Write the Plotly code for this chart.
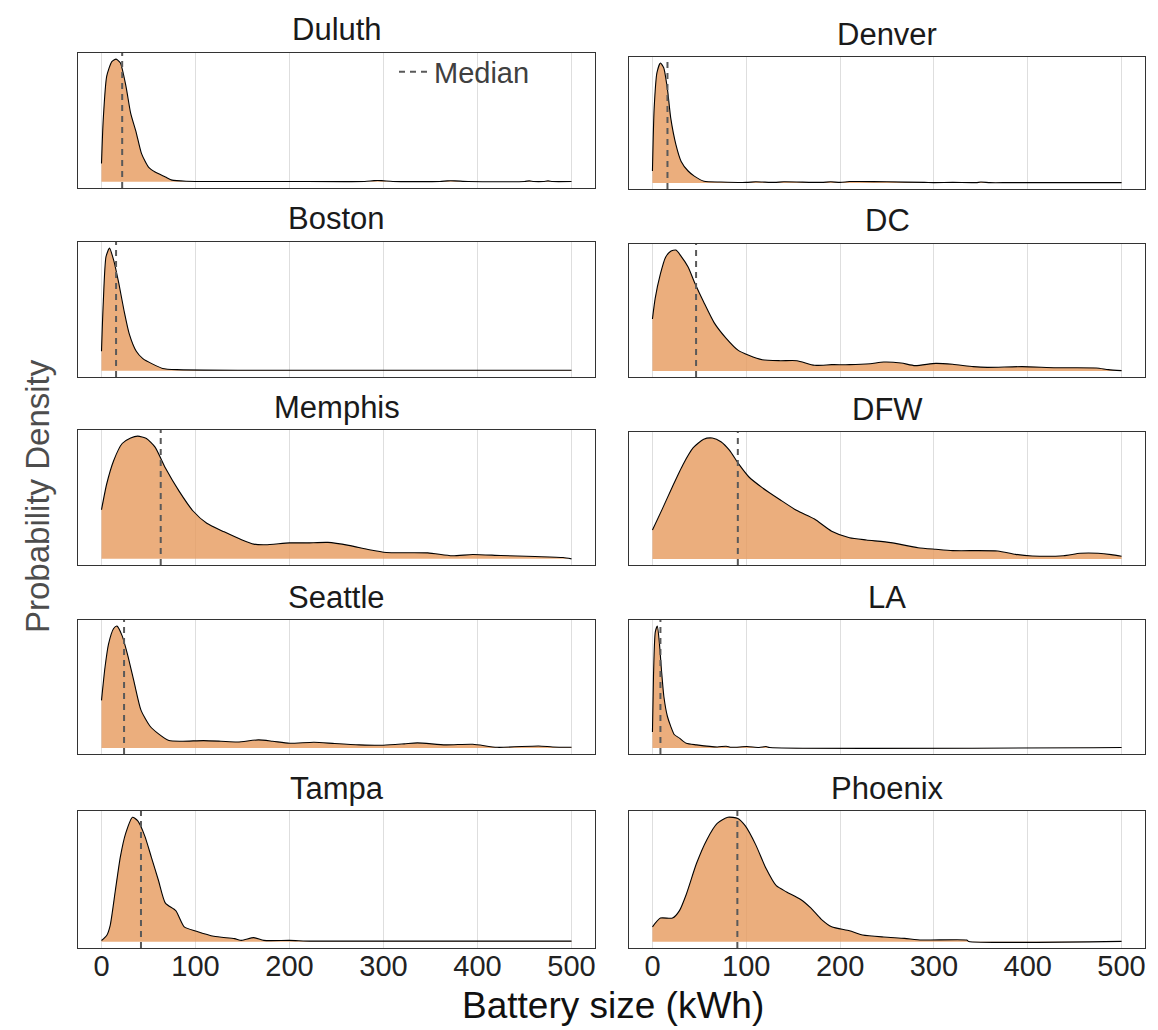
import plotly.graph_objects as go
from plotly.subplots import make_subplots

# ---------------- data ----------------
cities = ["Duluth", "Denver", "Boston", "DC", "Memphis", "DFW", "Seattle", "LA", "Tampa", "Phoenix"]

duluth_x = [0, 1.8, 5.5, 11, 15.5, 20, 26, 31, 37, 42.6, 50, 57, 68, 75, 90, 150, 200, 280, 290, 298, 310,
            360, 368, 376, 390, 450, 455, 460, 470, 475, 480, 500]
duluth_y = [0.15, 0.50, 0.86, 0.98, 1.0, 0.97, 0.78, 0.56, 0.40, 0.23, 0.12, 0.08, 0.04, 0.014, 0.005, 0.003,
            0.003, 0.003, 0.01, 0.01, 0.003, 0.003, 0.008, 0.008, 0.003, 0.003, 0.008, 0.003, 0.003, 0.008,
            0.003, 0.003]

denver_x = [0, 1.8, 4.8, 8.5, 12, 16, 19.5, 25, 30.6, 38, 45, 55, 73, 100, 110, 130, 140, 180, 190, 200,
            210, 220, 250, 290, 300, 320, 345, 350, 360, 380, 500]
denver_y = [0.10, 0.62, 0.92, 1.0, 0.96, 0.78, 0.54, 0.32, 0.18, 0.10, 0.055, 0.014, 0.008, 0.005, 0.01,
            0.005, 0.01, 0.005, 0.01, 0.005, 0.012, 0.012, 0.01, 0.005, 0.003, 0.005, 0.003, 0.008, 0.003,
            0.003, 0.003]

boston_x = [0, 1.8, 4.8, 8.5, 13, 18.5, 24, 29.6, 37, 44, 54, 65, 80, 150, 300, 500]
boston_y = [0.16, 0.54, 0.93, 1.0, 0.90, 0.71, 0.49, 0.30, 0.16, 0.10, 0.057, 0.02, 0.01, 0.005, 0.005, 0.005]

dc_x = [0, 2.9, 8.4, 14, 19.4, 25, 30.4, 38, 45, 54.6, 65.7, 78.6, 91.5, 102.6, 117, 136, 154, 172.7, 191,
        210, 232, 246.5, 265, 280, 302, 320, 342, 357, 394, 430, 473, 486, 500]
dc_y = [0.43, 0.60, 0.80, 0.94, 0.99, 1.0, 0.95, 0.86, 0.73, 0.57, 0.40, 0.27, 0.17, 0.13, 0.093, 0.085,
        0.085, 0.047, 0.052, 0.052, 0.06, 0.074, 0.066, 0.044, 0.063, 0.055, 0.036, 0.03, 0.036, 0.027,
        0.025, 0.011, 0.003]

memphis_x = [0, 5.5, 12.9, 22, 31, 38.6, 47.8, 57, 68, 82.7, 97.4, 112, 130.5, 149, 162, 174.6, 200, 218.8,
             240.8, 263, 285, 303, 347, 373, 395, 424.6, 461, 491, 500]
memphis_y = [0.40, 0.61, 0.80, 0.94, 0.985, 1.0, 0.98, 0.91, 0.74, 0.55, 0.39, 0.29, 0.22, 0.156, 0.12,
             0.115, 0.13, 0.13, 0.134, 0.11, 0.074, 0.052, 0.049, 0.025, 0.036, 0.027, 0.019, 0.011, 0.0]

dfw_x = [0, 10.3, 21.4, 32.5, 43.5, 54.6, 63.8, 73, 82, 91.5, 102.6, 117, 136, 154, 172.7, 191, 210, 228,
         254, 283, 302, 320, 368, 387, 405, 438, 456, 475, 489, 500]
dfw_y = [0.24, 0.41, 0.60, 0.78, 0.92, 0.99, 1.0, 0.97, 0.90, 0.79, 0.68, 0.59, 0.49, 0.40, 0.33, 0.23,
         0.176, 0.157, 0.135, 0.093, 0.08, 0.069, 0.066, 0.038, 0.025, 0.027, 0.047, 0.047, 0.036, 0.022]

seattle_x = [0, 3.7, 7.4, 12.9, 16.5, 22, 27.6, 35, 42, 51.5, 60.7, 71.7, 86.4, 108.5, 127, 145, 167, 182,
             200, 226, 248, 274, 300, 322, 336, 366, 395, 421, 465, 480, 500]
seattle_y = [0.39, 0.66, 0.85, 0.98, 1.0, 0.92, 0.77, 0.53, 0.31, 0.18, 0.115, 0.06, 0.055, 0.06, 0.055,
             0.049, 0.066, 0.055, 0.038, 0.047, 0.036, 0.025, 0.022, 0.033, 0.041, 0.025, 0.030, 0.005,
             0.016, 0.008, 0.005]

la_x = [0, 1.1, 3, 5.2, 7.4, 9.6, 12.2, 15.9, 19.6, 23.2, 28.8, 36, 47, 69, 78.6, 84, 100.7, 113.6, 121,
        125, 500]
la_y = [0.13, 0.59, 0.95, 1.0, 0.86, 0.64, 0.42, 0.26, 0.175, 0.11, 0.08, 0.038, 0.025, 0.008, 0.014,
        0.005, 0.011, 0.003, 0.011, 0.003, 0.003]

tampa_x = [0, 5.5, 9.2, 14.7, 20, 25.7, 33, 38.6, 46, 53, 60.7, 68, 79, 88, 101, 119.5, 141.5, 149, 162,
           172.8, 200, 224, 500]
tampa_y = [0.01, 0.05, 0.13, 0.41, 0.68, 0.87, 1.0, 0.97, 0.85, 0.68, 0.49, 0.31, 0.25, 0.12, 0.085,
           0.044, 0.025, 0.011, 0.033, 0.011, 0.011, 0.005, 0.005]

phoenix_x = [0, 8.5, 21.4, 28.8, 36, 47, 58, 69, 80.4, 91, 99, 110, 121, 132, 143, 158, 169, 180, 191,
             210, 224, 246.5, 268.6, 287, 335, 337, 500]
phoenix_y = [0.12, 0.19, 0.19, 0.25, 0.38, 0.63, 0.82, 0.95, 1.0, 0.99, 0.93, 0.78, 0.59, 0.45, 0.40,
             0.34, 0.27, 0.18, 0.12, 0.088, 0.055, 0.038, 0.027, 0.014, 0.014, 0.003, 0.003]

medians = [22, 16, 15.5, 46.5, 63, 91, 24, 8.5, 42, 90.5]

tick_vals = [0, 100, 200, 300, 400, 500]
tick_text = ["0", "100", "200", "300", "400", "500"]

curves_x = [duluth_x, denver_x, boston_x, dc_x, memphis_x, dfw_x, seattle_x, la_x, tampa_x, phoenix_x]
curves_y = [duluth_y, denver_y, boston_y, dc_y, memphis_y, dfw_y, seattle_y, la_y, tampa_y, phoenix_y]

# ---------------- layout geometry (pixels) ----------------
W, H = 1158, 1030
col_px = [(70, 587), (621, 1137)]
rows_px = {0: [(45, 180), (234, 369), (422, 557), (612, 746), (803, 940)],
           1: [(49, 181), (236, 369), (424, 557), (612, 746), (803, 940)]}

FILL = "rgba(230,154,93,0.80)"
FONT = "Liberation Sans, Arial, sans-serif"

fig = make_subplots(rows=5, cols=2)

for i, city in enumerate(cities):
    r, c = i // 2 + 1, i % 2 + 1
    xs, ys = curves_x[i], curves_y[i]
    fig.add_trace(go.Scatter(x=xs, y=ys, mode="lines", fill="tozeroy", fillcolor=FILL,
                             line=dict(color="black", width=1.1, shape="spline", smoothing=0.6),
                             showlegend=False, hoverinfo="x+y", name=city), row=r, col=c)
    fig.add_vline(x=medians[i], line=dict(color="#595959", width=2, dash="6px,5px"), row=r, col=c)

    ymax = max(ys)
    n = i + 1
    xa = "xaxis" if n == 1 else f"xaxis{n}"
    ya = "yaxis" if n == 1 else f"yaxis{n}"
    x0, x1 = col_px[c - 1]
    top, bot = rows_px[c - 1][r - 1]
    fig.layout[xa].update(domain=[x0 / W, x1 / W], range=[-25, 525], tickvals=tick_vals, ticktext=tick_text,
                          showgrid=True, gridcolor="#DEDEDE", gridwidth=1, zeroline=False,
                          showline=True, mirror=True, linecolor="#333333", linewidth=1.3,
                          ticks="", showticklabels=(r == 5), ticklabelstandoff=-8,
                          tickfont=dict(family=FONT, size=29, color="#222222"))
    fig.layout[ya].update(domain=[1 - bot / H, 1 - top / H], range=[-0.05 * ymax, 1.05 * ymax],
                          showgrid=False, zeroline=False, showticklabels=False, ticks="",
                          showline=True, mirror=True, linecolor="#333333", linewidth=1.3)
    xref = "x domain" if n == 1 else f"x{n} domain"
    yref = "y domain" if n == 1 else f"y{n} domain"
    fig.add_annotation(text=city, x=0.5, y=1, xref=xref, yref=yref, xanchor="center", yanchor="middle",
                       yshift=23, showarrow=False, font=dict(family=FONT, size=31, color="#1A1A1A"))

# legend entry for the median line
fig.add_trace(go.Scatter(x=[None], y=[None], mode="lines", name="Median",
                         line=dict(color="#595959", width=2, dash="6px,5px"), showlegend=True),
              row=1, col=1)

fig.add_annotation(text="Battery size (kWh)", x=605 / W, y=1 - 997 / H, xref="paper", yref="paper",
                   xanchor="center", yanchor="middle", showarrow=False,
                   font=dict(family=FONT, size=37, color="#111111"))
fig.add_annotation(text="Probability Density", x=30 / W, y=1 - 488 / H, xref="paper", yref="paper",
                   xanchor="center", yanchor="middle", textangle=-90, showarrow=False,
                   font=dict(family=FONT, size=33, color="#4D4D4D"))

fig.update_layout(width=W, height=H, margin=dict(l=0, r=0, t=0, b=0),
                  paper_bgcolor="white", plot_bgcolor="white",
                  showlegend=True,
                  legend=dict(x=386 / W, y=1 - 64 / H, xanchor="left", yanchor="middle",
                              bgcolor="rgba(0,0,0,0)", borderwidth=0,
                              font=dict(family=FONT, size=29, color="#404040")))

fig.write_html("out.html")
